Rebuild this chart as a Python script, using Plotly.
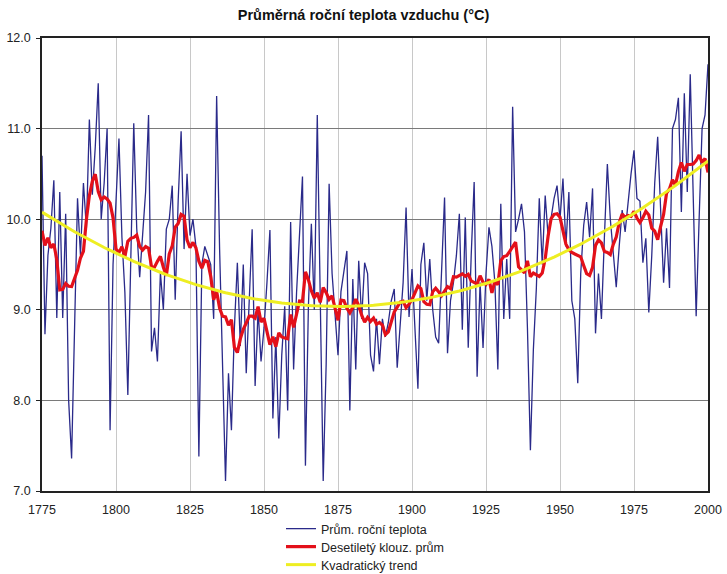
import numpy as np
import pandas as pd
import plotly.graph_objects as go

# Annual mean air temperature (°C), 1775-2000, one row per decade
years = list(range(1775, 2001))
temp = [
    10.7, 8.73, 9.6, 9.9, 10.43,                                   # 1775-1779
    8.91, 10.3, 8.91, 10.06, 8.0, 7.36, 8.8, 10.23, 9.6, 10.4,       # 1780s
    9.9, 11.1, 10.27, 10.8, 11.5, 10.0, 10.4, 11.0, 7.67, 9.5,       # 1790s
    10.2, 10.89, 9.8, 9.19, 8.06, 9.6, 11.06, 9.9, 9.36, 9.83,       # 1800s
    10.3, 11.15, 8.54, 8.8, 8.43, 9.41, 9.0, 9.89, 10.0, 10.37,      # 1810s
    9.11, 10.2, 10.97, 9.67, 10.5, 9.82, 10.0, 9.7, 7.38, 9.5,       # 1820s
    9.7, 9.6, 9.5, 8.9, 11.36, 9.67, 8.38, 7.11, 8.3, 7.67,          # 1830s
    8.8, 9.52, 8.6, 9.5, 8.3, 9.1, 9.89, 8.16, 9.0, 8.43,            # 1840s
    8.8, 9.3, 9.88, 7.8, 8.7, 7.58, 8.5, 9.04, 7.89, 9.97,           # 1850s
    8.34, 9.19, 9.8, 10.47, 7.28, 9.04, 9.95, 9.0, 11.15, 9.1,       # 1860s
    7.11, 8.4, 10.39, 9.4, 8.9, 8.5, 9.2, 9.4, 9.65, 7.89,           # 1870s
    9.34, 8.34, 9.54, 8.9, 9.52, 9.4, 8.5, 8.32, 8.9, 8.4,           # 1880s
    8.9, 8.7, 8.86, 9.1, 9.23, 8.36, 8.8, 9.3, 10.13, 8.92,          # 1890s
    9.45, 8.8, 8.13, 9.5, 9.74, 9.1, 9.56, 9.0, 8.7, 8.63,           # 1900s
    9.4, 10.24, 8.52, 9.1, 9.3, 9.6, 10.06, 8.78, 10.02, 8.58,       # 1910s
    9.6, 10.41, 8.26, 9.3, 8.58, 9.4, 9.91, 9.7, 9.3, 8.34,          # 1920s
    10.17, 8.9, 9.56, 8.9, 11.24, 9.86, 10.0, 10.17, 9.86, 8.8,      # 1930s
    7.45, 8.56, 9.23, 10.23, 9.5, 10.26, 9.8, 10.0, 10.23, 10.37,    # 1940s
    10.0, 10.45, 9.7, 10.3, 9.1, 8.9, 8.19, 9.4, 9.93, 10.19,        # 1950s
    9.8, 10.34, 8.74, 9.4, 8.9, 9.8, 10.61, 10.0, 9.6, 9.25,         # 1960s
    9.7, 10.1, 9.86, 10.2, 10.5, 10.76, 10.23, 10.2, 9.52, 9.79,     # 1970s
    8.97, 9.6, 10.4, 10.91, 10.1, 9.3, 9.9, 9.24, 11.0, 11.1,        # 1980s
    11.34, 10.08, 11.39, 10.3, 11.6, 10.3, 8.93, 10.0, 11.0, 11.15,  # 1990s
    11.71,                                                          # 2000
]
assert len(temp) == len(years)

series_names = ["Prům. roční teplota", "Desetiletý klouz. prům", "Kvadratický trend"]
title_text = "Průměrná roční teplota vzduchu (°C)"
x_ticks = [1775, 1800, 1825, 1850, 1875, 1900, 1925, 1950, 1975, 2000]
y_ticks = [7.0, 8.0, 9.0, 10.0, 11.0, 12.0]

# Derived series: 10-year centred moving average and quadratic trend
s = pd.Series(temp, index=years)
moving = s.rolling(10, center=True, min_periods=5).mean()
coef = np.polyfit(years, temp, 2)
trend = np.polyval(coef, years)

FONT = "Liberation Sans, Arial, sans-serif"
H = 574

fig = go.Figure()
fig.add_trace(go.Scatter(
    x=years, y=temp, mode="lines", name=series_names[0], legend="legend",
    line=dict(color="#2a2a8a", width=1.3),
))
fig.add_trace(go.Scatter(
    x=years, y=moving.values, mode="lines", name=series_names[1], legend="legend2",
    line=dict(color="#e3101a", width=3.2),
))
fig.add_trace(go.Scatter(
    x=years, y=trend, mode="lines", name=series_names[2], legend="legend3",
    line=dict(color="#eeee22", width=3),
))


def legend_row(y_px):
    # one legend box per series, stacked one row apart below the plot
    return dict(xref="container", yref="container",
                x=0.3865, y=1 - y_px / H, xanchor="left", yanchor="middle",
                font=dict(size=12.5, color="#222"),
                bgcolor="rgba(0,0,0,0)")


fig.update_layout(
    width=727, height=H,
    margin=dict(l=42, r=19, t=38, b=83, autoexpand=False),
    paper_bgcolor="white", plot_bgcolor="white",
    font=dict(family=FONT, size=12, color="#222"),
    title=dict(text="<b>" + title_text + "</b>", x=0.5, xanchor="center",
               xref="container", yref="container",
               y=1 - 15 / H, yanchor="middle",
               font=dict(size=14.5, color="#111")),
    showlegend=True,
    legend=legend_row(529),
    legend2=legend_row(547),
    legend3=legend_row(565),
)
fig.update_xaxes(
    range=[1775, 2000], tickvals=x_ticks, ticktext=[str(t) for t in x_ticks],
    showline=True, linecolor="#222", linewidth=1.5, mirror=True,
    showgrid=True, gridcolor="#c8c8c8", gridwidth=1,
    ticks="", zeroline=False, ticklabelstandoff=6,
    tickfont=dict(size=12.5, color="#222"),
)
fig.update_yaxes(
    range=[7, 12], tickvals=y_ticks, tickformat=".1f",
    showline=True, linecolor="#222", linewidth=1.5, mirror=True,
    showgrid=True, gridcolor="#7a7a7a", gridwidth=1,
    ticks="outside", ticklen=4, tickcolor="#222", zeroline=False,
    ticklabelstandoff=3, tickfont=dict(size=12.5, color="#222"),
)

fig.write_html("out.html")
